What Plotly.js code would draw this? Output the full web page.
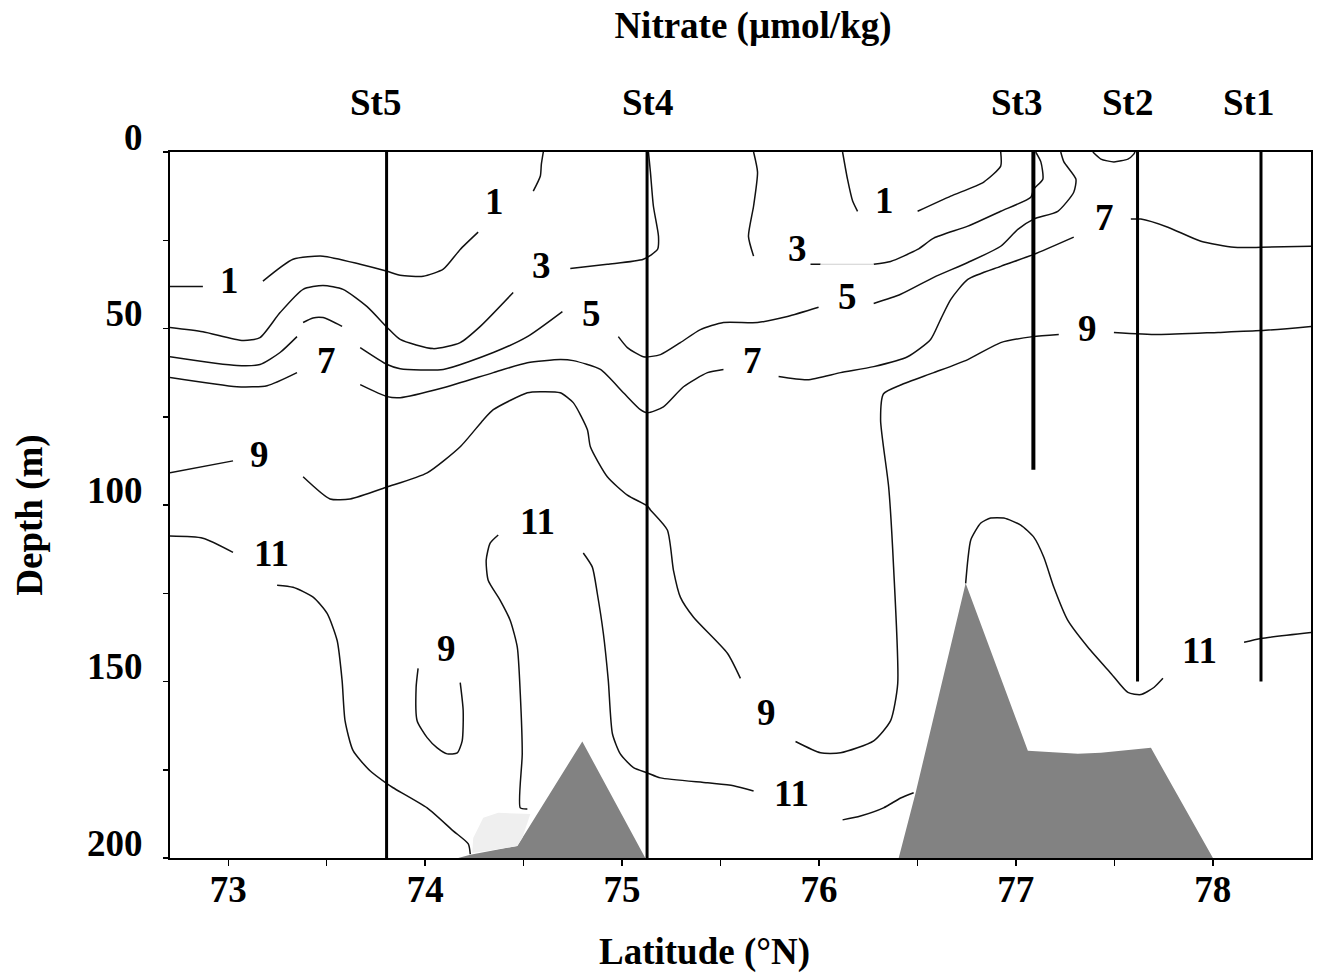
<!DOCTYPE html>
<html>
<head>
<meta charset="utf-8">
<script src="https://cdn.plot.ly/plotly-3.0.1.min.js"></script>
<style>html,body{margin:0;padding:0;background:#fff;}#chart{width:1318px;height:979px;}</style>
</head>
<body>
<div id="chart"></div>
<script>
// ---- Contour lines (latitude °N, depth m); null separates broken segments ----
const c1Lat = [72.704,72.871,null, 73.176,73.329,73.481,73.670,73.807,73.873,73.990,74.092,74.178,74.269,null, 74.549,74.585,74.590,74.600,null, 76.120,76.145,76.171,76.196,null, 76.501,76.669,76.837,76.923,76.923];
const c1Dep = [38.1,38.1,null, 36.6,30.4,29.5,31.8,33.8,34.9,35.2,33.2,27.6,22.7,null, 11.1,6.8,3.5,0,null, 0,7.7,13.9,16.8,null, 16.8,12.5,8.5,4.0,0];

const c3Lat = [72.704,72.871,73.075,73.161,73.263,73.380,73.481,73.583,73.705,73.807,73.873,74.041,74.178,74.280,74.447,null, 74.737,74.925,75.108,75.180,75.185,75.159,75.144,75.134,null, 75.668,75.688,75.668,75.642,75.668,null, 75.957,76.008,null, 76.278,76.364,76.501,76.583,76.756,76.923,77.076,77.091,77.137,77.127,77.101];
const c3Dep = [49.7,50.9,53.4,52.6,45.5,38.9,37.8,38.9,43.8,49.7,53.1,55.7,54.0,49.4,39.8,null, 33.0,31.8,30.4,27.6,23.9,15.3,5.7,0,null, 0,5.7,15.3,23.9,29.5,null, 31.8,31.8,null, 31.8,31.0,27.6,24.4,21.0,16.8,12.8,10.5,7.7,2.8,0];
const c3FaintLat = [76.008,76.278];
const c3FaintDep = [31.8,31.8];

const c5Lat = [72.704,73.044,73.161,73.263,73.349,null, 73.380,73.430,73.481,73.578,null, 73.670,73.807,73.873,74.092,74.346,74.519,74.697,null, 74.981,75.027,75.108,75.195,75.296,75.398,75.515,75.688,75.840,75.998,null, 76.278,76.415,76.583,76.756,76.923,77.010,77.091,77.213,77.294,77.305,77.244,77.228];
const c5Dep = [58.0,60.5,60.2,56.8,52.3,null, 48.3,47.0,46.9,49.4,null, 55.4,60.2,61.4,61.6,56.8,52.3,45.2,null, 52.3,55.4,58.0,57.4,54.0,50.3,48.3,48.3,46.6,44.0,null, 42.9,40.3,35.5,31.3,26.7,21.9,19.0,16.8,11.4,7.7,2.8,0];

const c7Lat = [72.704,73.044,73.197,73.349,null, 73.670,73.807,73.873,74.092,74.346,74.519,74.686,74.752,74.890,75.007,75.093,75.129,75.210,75.312,75.434,75.515,null, 75.795,75.942,76.110,76.278,76.450,76.567,76.618,76.669,76.756,76.923,77.091,77.294,null, 77.584,77.635,77.772,77.940,78.108,78.245,78.499];
const c7Dep = [63.9,66.5,66.2,62.5,null, 65.9,69.3,69.6,66.8,62.5,59.7,58.8,59.1,61.6,68.2,73.0,73.9,72.2,66.5,62.5,61.6,null, 63.6,64.5,62.5,60.8,58.0,53.1,47.4,41.8,36.1,32.4,29.0,24.1,null, 19.0,19.0,21.3,25.3,27.0,27.0,26.7];

const cTopLat = [77.391,77.432,77.498,77.569,77.599,77.605];
const cTopDep = [0,2.0,2.8,2.0,0.6,0];

const c9Lat = [72.704,73.024,null, 73.380,73.517,73.619,73.807,74.010,74.178,74.295,74.346,74.519,74.585,74.686,74.752,74.824,74.839,74.925,75.027,75.129,75.144,75.230,75.261,75.296,75.363,75.535,75.601,null, 75.881,76.008,76.110,76.278,76.364,76.400,76.379,76.354,76.313,76.328,76.415,76.583,76.756,76.923,77.086,77.218,null, 77.498,77.721,78.027,78.245,78.499,null, 73.964,73.954,73.959,74.010,74.061,74.112,74.163,74.188,74.193,74.178];
const c9Dep = [90.9,87.5,null, 92.0,98.3,98.3,94.9,90.9,83.5,75.9,73.0,68.2,67.9,68.2,71.0,78.7,83.5,92.0,97.2,100.3,101.4,107.1,118.5,126.1,131.8,142.0,149.1,null, 167.0,170.2,170.2,166.8,161.1,150.6,117.6,94.9,75.9,68.5,66.0,62.5,58.8,54.0,52.3,51.7,null, 51.1,51.7,51.1,50.6,49.4,null, 146.3,151.7,161.1,165.9,168.8,170.5,170.2,166.8,158.2,150.3];

const c11Lat = [72.704,72.871,73.024,null, 73.248,73.329,73.431,73.502,73.553,73.578,73.593,73.634,73.720,73.807,73.837,74.010,74.142,74.219,74.229,null, 74.371,74.330,74.310,74.320,74.381,74.432,74.468,74.483,74.493,74.483,74.519,null, 74.803,74.849,74.874,74.905,74.930,74.951,74.991,75.058,75.129,75.195,75.434,75.566,75.668,null, 76.120,76.211,76.328,76.415,76.481,null, 76.745,76.756,76.771,76.822,76.872,76.939,77.025,77.091,77.142,77.193,77.264,77.366,77.483,77.569,77.635,77.701,77.747,null, 78.159,78.245,78.499];
const c11Dep = [108.8,109.4,113.4,null, 122.7,123.3,126.1,130.7,138.4,149.7,161.1,169.6,175.3,179.0,180.1,185.8,192.3,196.0,198.9,null, 108.5,110.8,115.6,121.3,127.0,132.7,140.3,153.4,170.5,185.8,186.1,null, 113.6,117.6,125.0,136.4,149.7,164.8,170.5,174.4,175.9,177.3,178.7,179.5,181.0,null, 189.2,188.1,185.8,183.0,181.5,null, 122.2,115.6,109.9,105.1,103.7,103.7,105.7,109.1,114.8,123.3,132.7,140.3,147.7,153.1,153.7,151.7,149.1,null, 138.9,137.8,136.1];

// ---- Contour labels ----
const labelText = ['1','1','3','5','7','9','11','11','9','1','3','5','7','7','9','9','11','11'];
const labelLat  = [73.004,74.351,74.590,74.844,73.497,73.161,73.217,74.569,74.107,76.334,75.891,76.145,75.662,77.452,77.366,75.734,75.861,77.935];
const labelDep  = [36.4,13.9,32.1,45.7,59.1,85.8,113.6,104.8,140.6,13.6,27.3,40.9,59.1,18.5,50.0,158.8,181.8,141.2];

// ---- Bottom topography ----
const bathyLeftLat  = [74.168,74.229,74.468,74.798,75.118,74.168];
const bathyLeftDep  = [200,199.1,196.6,167.0,200,200];
const bathyPatchLat = [74.239,74.244,74.295,74.371,74.534,74.493,74.468,74.239];
const bathyPatchDep = [198.6,194.3,188.6,187.2,187.5,194.3,196.6,198.6];
const bathyRightLat = [76.405,76.491,76.745,77.061,77.315,77.432,77.686,78.001,76.405];
const bathyRightDep = [200,181.5,122.2,169.6,170.5,170.2,168.8,200,200];

// ---- Stations ----
const stNames    = ['St5','St4','St3','St2','St1'];
const stLat      = [73.804,75.127,77.089,77.618,78.245];
const stBottom   = [200,200,90,150,150];
const stWidth    = [3,3,4,3,3];
const stLabelLat = [73.746,75.129,77.005,77.569,78.184];

// ---- Axis ticks and titles ----
const xTickVals = [73,74,75,76,77,78];
const xTickText = ['73','74','75','76','77','78'];
const yTickVals = [0,50,100,150,200];
const yTickText = ['0','50','100','150','200'];
const chartTitle = 'Nitrate (µmol/kg)';
const xTitle = 'Latitude (°N)';
const yTitle = 'Depth (m)';

const FONT = 'Liberation Serif, Times New Roman, serif';
const FS = 37;
const traces = [];

function fillTrace(x, y, color) {
  return {x: x, y: y, type: 'scatter', mode: 'lines', fill: 'toself', fillcolor: color,
          line: {color: color, width: 0}, hoverinfo: 'skip', showlegend: false};
}
traces.push(fillTrace(bathyLeftLat, bathyLeftDep, '#828282'));
traces.push(fillTrace(bathyPatchLat, bathyPatchDep, '#efefef'));
traces.push(fillTrace(bathyRightLat, bathyRightDep, '#828282'));

function lineTrace(x, y, color, w, smooth) {
  const line = {color: color, width: w};
  if (smooth) { line.shape = 'spline'; line.smoothing = 0.6; }
  return {x: x, y: y, type: 'scatter', mode: 'lines', connectgaps: false,
          line: line, hoverinfo: 'skip', showlegend: false};
}
[[c1Lat,c1Dep],[c3Lat,c3Dep],[c5Lat,c5Dep],[c7Lat,c7Dep],[cTopLat,cTopDep],[c9Lat,c9Dep],[c11Lat,c11Dep]]
  .forEach(p => traces.push(lineTrace(p[0], p[1], '#111', 1.5, true)));
traces.push(lineTrace(c3FaintLat, c3FaintDep, '#cfcfcf', 1.2, false));

stLat.forEach((lat, i) => {
  traces.push(lineTrace([lat, lat], [0, stBottom[i]], '#000', stWidth[i], false));
});

const annotations = [];
labelText.forEach((t, i) => {
  annotations.push({x: labelLat[i], y: labelDep[i], xref: 'x', yref: 'y', text: '<b>' + t + '</b>',
    showarrow: false, xanchor: 'center', yanchor: 'middle', font: {family: FONT, size: FS, color: '#000'}});
});
stNames.forEach((n, i) => {
  annotations.push({x: stLabelLat[i], y: 1.0698, xref: 'x', yref: 'paper', text: '<b>' + n + '</b>',
    showarrow: false, xanchor: 'center', yanchor: 'middle', font: {family: FONT, size: FS, color: '#000'}});
});
annotations.push({x: 0.4681, y: -0.1327, xref: 'paper', yref: 'paper', text: '<b>' + xTitle + '</b>',
  showarrow: false, xanchor: 'center', yanchor: 'middle', font: {family: FONT, size: FS, color: '#000'}});
annotations.push({x: -0.1227, y: 0.4863, xref: 'paper', yref: 'paper', text: '<b>' + yTitle + '</b>',
  textangle: -90, showarrow: false, xanchor: 'center', yanchor: 'middle', font: {family: FONT, size: FS, color: '#000'}});

const layout = {
  width: 1318, height: 979,
  margin: {l: 170, r: 7.3, t: 152.3, b: 120.7, pad: 0},
  paper_bgcolor: '#fff', plot_bgcolor: '#fff',
  font: {family: FONT, size: FS, color: '#000', weight: 'bold'},
  showlegend: false,
  title: {text: '<b>' + chartTitle + '</b>', x: 0.5713, xref: 'container', xanchor: 'center',
          y: 0.9745, yref: 'container', yanchor: 'middle', font: {family: FONT, size: FS, color: '#000'}},
  xaxis: {
    range: [72.704, 78.499], showgrid: false, zeroline: false,
    showline: true, linecolor: '#000', linewidth: 2, mirror: true,
    tickvals: xTickVals, ticktext: xTickText, ticks: 'outside', ticklen: 6, tickwidth: 1.5, tickcolor: '#000',
    minor: {dtick: 0.5, tick0: 73, ticks: 'outside', ticklen: 6, tickwidth: 1.5, tickcolor: '#000'},
    ticklabelstandoff: -8,
    tickfont: {family: FONT, size: FS, color: '#000', weight: 'bold'}
  },
  yaxis: {
    range: [200, 0], showgrid: false, zeroline: false,
    showline: true, linecolor: '#000', linewidth: 2, mirror: true,
    tickvals: yTickVals, ticktext: yTickText, ticks: 'outside', ticklen: 5, tickwidth: 1.5, tickcolor: '#000',
    minor: {dtick: 25, tick0: 0, ticks: 'outside', ticklen: 5, tickwidth: 1.5, tickcolor: '#000'},
    ticklabelstandoff: 13, ticklabelshift: 15,
    tickfont: {family: FONT, size: FS, color: '#000', weight: 'bold'}
  },
  annotations: annotations
};

Plotly.newPlot('chart', traces, layout, {displayModeBar: false, staticPlot: true});
</script>
</body>
</html>
